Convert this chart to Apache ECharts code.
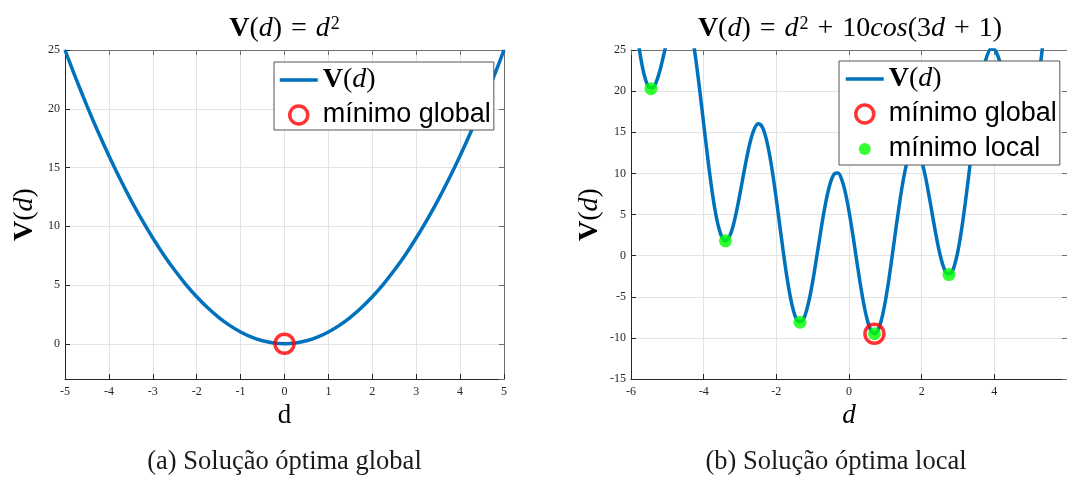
<!DOCTYPE html>
<html>
<head>
<meta charset="utf-8">
<script src="https://cdn.jsdelivr.net/npm/echarts@6/dist/echarts.min.js"></script>
<style>
html,body{margin:0;padding:0;background:#fff;}
#chart{width:1067px;height:479px;}
</style>
</head>
<body>
<div id="chart"></div>
<script>
// ---- Data ----
// (a) V(d) = d^2
const dLeft = [-5,-4.75,-4.5,-4.25,-4,-3.75,-3.5,-3.25,-3,-2.75,-2.5,-2.25,-2,-1.75,-1.5,-1.25,-1,-0.75,-0.5,-0.25,0,0.25,0.5,0.75,1,1.25,1.5,1.75,2,2.25,2.5,2.75,3,3.25,3.5,3.75,4,4.25,4.5,4.75,5];
const vLeft = [25,22.56,20.25,18.06,16,14.06,12.25,10.56,9,7.56,6.25,5.06,4,3.06,2.25,1.56,1,0.56,0.25,0.06,0,0.06,0.25,0.56,1,1.56,2.25,3.06,4,5.06,6.25,7.56,9,10.56,12.25,14.06,16,18.06,20.25,22.56,25];
const globalLeftX = [0];
const globalLeftY = [0];

// (b) V(d) = d^2 + 10cos(3d+1)
const dRight = [-6.0,-5.9,-5.8,-5.7,-5.6,-5.5,-5.4,-5.3,-5.2,-5.1,-5.0,-4.9,-4.8,-4.7,-4.6,-4.5,-4.4,-4.3,-4.2,-4.1,-4.0,-3.9,-3.8,-3.7,-3.6,-3.5,-3.4,-3.3,-3.2,-3.1,-3.0,-2.9,-2.8,-2.7,-2.6,-2.5,-2.4,-2.3,-2.2,-2.1,-2.0,-1.9,-1.8,-1.7,-1.6,-1.5,-1.4,-1.3,-1.2,-1.1,-1.0,-0.9,-0.8,-0.7,-0.6,-0.5,-0.4,-0.3,-0.2,-0.1,0.0,0.1,0.2,0.3,0.4,0.5,0.6,0.7,0.8,0.9,1.0,1.1,1.2,1.3,1.4,1.5,1.6,1.7,1.8,1.9,2.0,2.1,2.2,2.3,2.4,2.5,2.6,2.7,2.8,2.9,3.0,3.1,3.2,3.3,3.4,3.5,3.6,3.7,3.8,3.9,4.0,4.1,4.2,4.3,4.4,4.5,4.6,4.7,4.8,4.9,5.0,5.1,5.2,5.3,5.4,5.5,5.6];
const vRight = [33.25,29.34,25.94,23.25,21.40,20.47,20.42,21.18,22.57,24.39,26.37,28.24,29.76,30.70,30.89,30.23,28.70,26.35,23.34,19.81,16.04,12.30,8.83,5.88,3.66,2.28,1.81,2.24,3.45,5.30,7.54,9.94,12.23,14.14,15.45,16.02,15.73,14.56,12.60,9.95,6.84,3.49,0.17,-2.86,-5.35,-7.12,-8.02,-8.02,-7.13,-5.45,-3.16,-0.48,2.34,5.03,7.33,9.03,9.96,10.04,9.25,7.66,5.40,2.69,-0.25,-3.14,-5.73,-7.76,-9.06,-9.50,-9.03,-7.67,-5.54,-2.80,0.32,3.56,6.65,9.34,11.42,12.72,13.17,12.75,11.54,9.68,7.35,4.83,2.37,0.23,-1.35,-2.19,-2.16,-1.22,0.61,3.21,6.39,9.93,13.59,17.08,20.17,22.62,24.30,25.12,25.07,24.24,22.77,20.84,18.73,16.70,15.01,13.88,13.51,14.01,15.42,17.71,20.77,24.40,28.37,32.45,36.34];
const globalRightX = [0.7];
const globalRightY = [-9.5];
const localX = [-5.45,-3.4,-1.35,0.7,2.75];
const localY = [20.3,1.8,-8.1,-9.5,-2.3];

// Text
const nameCurve = 'V(d)';
const nameGlobal = 'mínimo global';
const nameLocal = 'mínimo local';
const captionA = '(a) Solução óptima global';
const captionB = '(b) Solução óptima local';

// ---- Styling ----
const SERIF = 'Liberation Serif';
const SANS = 'Liberation Sans';
const AX = '#262626';
const MIRROR = '#707070';
const BLUE = '#0072BD';
const GRIDC = '#e3e3e3';

const zip = (a, b) => a.map((v, i) => [v, b[i]]);

const mathRich = (fs, pad) => ({
  b: {fontFamily: SERIF, fontWeight: 'bold', fontSize: fs, color: '#000'},
  i: {fontFamily: SERIF, fontStyle: 'italic', fontSize: fs, color: '#000'},
  n: {fontFamily: SERIF, fontSize: fs, color: '#000'},
  o: {fontFamily: SERIF, fontSize: fs, color: '#000', padding: [0, pad, 0, pad]},
  s: {fontFamily: SERIF, fontSize: Math.round(fs * 0.66), color: '#000', verticalAlign: 'top', padding: [0, 0, 0, 1]}
});

function mainX(grid, min, max, interval, nameTxt) {
  return {
    type: 'value', gridIndex: grid, position: 'bottom', min, max, interval,
    name: nameTxt, nameLocation: 'middle', nameGap: 23,
    nameTextStyle: {fontFamily: SERIF, fontSize: 27, color: '#000', rich: mathRich(27, 0)},
    axisLine: {show: true, onZero: false, lineStyle: {color: AX, width: 1}},
    axisTick: {show: true, inside: true, length: 5, lineStyle: {color: AX}},
    axisLabel: {fontFamily: SERIF, fontSize: 12, color: AX, margin: 7, showMaxLabel: grid === 0},
    splitLine: {show: true, lineStyle: {color: GRIDC, width: 1}}
  };
}
function mirrorX(grid, min, max, interval) {
  return {
    type: 'value', gridIndex: grid, position: 'top', min, max, interval,
    axisLine: {show: true, onZero: false, lineStyle: {color: MIRROR, width: 1}},
    axisTick: {show: true, inside: true, length: 5, lineStyle: {color: MIRROR}},
    axisLabel: {show: false}, splitLine: {show: false}
  };
}
function mainY(grid, min, max, interval, gap, showMin) {
  const o = {
    type: 'value', gridIndex: grid, position: 'left', min, max,
    name: '{b|V}{n|(}{i|d}{n|)}', nameLocation: 'middle', nameGap: gap, nameRotate: 90,
    nameTextStyle: {fontFamily: SERIF, fontSize: 28, color: '#000', rich: mathRich(28, 0)},
    axisLine: {show: true, onZero: false, lineStyle: {color: AX, width: 1}},
    axisTick: {show: true, inside: true, length: 5, lineStyle: {color: AX}},
    axisLabel: {fontFamily: SERIF, fontSize: 12, color: AX, margin: 5, showMinLabel: showMin},
    splitLine: {show: true, lineStyle: {color: GRIDC, width: 1}}
  };
  if (interval) o.interval = interval; else o.splitNumber = 5;
  return o;
}
function mirrorY(grid, min, max, interval) {
  const o = {
    type: 'value', gridIndex: grid, position: 'right', min, max,
    axisLine: {show: true, onZero: false, lineStyle: {color: MIRROR, width: 1}},
    axisTick: {show: true, inside: true, length: 5, lineStyle: {color: MIRROR}},
    axisLabel: {show: false}, splitLine: {show: false}
  };
  if (interval) o.interval = interval; else o.splitNumber = 5;
  return o;
}

const legendText = {
  fontFamily: SANS, fontSize: 27, color: '#000', lineHeight: 28,
  rich: {
    b: {fontFamily: SERIF, fontWeight: 'bold', fontSize: 28, lineHeight: 28, color: '#000'},
    i: {fontFamily: SERIF, fontStyle: 'italic', fontSize: 28, lineHeight: 28, color: '#000'},
    n: {fontFamily: SERIF, fontSize: 28, lineHeight: 28, color: '#000'}
  }
};
const legendFmt = (name) => name === nameCurve ? '{b|V}{n|(}{i|d}{n|)}' : name;
const itemCurve = {name: nameCurve, lineStyle: {width: 3.5, color: BLUE}, itemStyle: {color: 'transparent', borderWidth: 0, opacity: 0}};
const itemGlobal = {name: nameGlobal, icon: 'circle', itemStyle: {color: 'transparent', borderColor: '#FF0000', borderWidth: 3.5}};
const itemLocal = {name: nameLocal, icon: 'path://M0 0M18 18M3 9A6 6 0 1 0 15 9A6 6 0 1 0 3 9Z', itemStyle: {color: '#00FF00', borderWidth: 0}};

const option = {
  animation: false,
  backgroundColor: '#fff',
  grid: [
    {left: 65, top: 50, width: 439, height: 329, containLabel: false},
    {left: 631, top: 50, width: 439, height: 329, containLabel: false}
  ],
  xAxis: [
    mainX(0, -5, 5, 1, 'd'),
    mirrorX(0, -5, 5, 1),
    mainX(1, -6, 6, 2, '{i|d}'),
    mirrorX(1, -6, 6, 2)
  ],
  yAxis: [
    mainY(0, -3, 25, null, 26, false),
    mirrorY(0, -3, 25, null),
    mainY(1, -15, 25, 5, 27, true),
    mirrorY(1, -15, 25, 5)
  ],
  legend: [
    {
      orient: 'vertical', left: 274, top: 62, selectedMode: false,
      data: [itemCurve, itemGlobal],
      itemWidth: 38, itemHeight: 18, itemGap: 7,
      padding: [4, 3, 1, 4],
      borderColor: '#555', borderWidth: 1, backgroundColor: '#fff',
      textStyle: legendText, formatter: legendFmt
    },
    {
      orient: 'vertical', left: 839, top: 61, selectedMode: false,
      data: [itemCurve, itemGlobal, itemLocal],
      itemWidth: 38, itemHeight: 18, itemGap: 7,
      padding: [4, 3, 2, 5],
      borderColor: '#555', borderWidth: 1, backgroundColor: '#fff',
      textStyle: legendText, formatter: legendFmt
    }
  ],
  series: [
    {
      name: nameCurve, type: 'line', xAxisIndex: 0, yAxisIndex: 0,
      data: zip(dLeft, vLeft), symbol: 'none', smooth: 0.3,
      lineStyle: {color: BLUE, width: 3.5}, itemStyle: {color: BLUE}, z: 2, silent: true
    },
    {
      name: nameGlobal, type: 'scatter', xAxisIndex: 0, yAxisIndex: 0,
      data: zip(globalLeftX, globalLeftY), symbol: 'circle', symbolSize: 19,
      itemStyle: {color: 'transparent', borderColor: '#FF0000', borderWidth: 3.5}, z: 4, silent: true
    },
    {
      name: nameCurve, type: 'line', xAxisIndex: 2, yAxisIndex: 2,
      data: zip(dRight, vRight), symbol: 'none', smooth: 0.3,
      lineStyle: {color: BLUE, width: 3.5}, itemStyle: {color: BLUE}, z: 2, silent: true
    },
    {
      name: nameLocal, type: 'scatter', xAxisIndex: 2, yAxisIndex: 2,
      data: zip(localX, localY), symbol: 'circle', symbolSize: 13,
      itemStyle: {color: '#00FF00'}, z: 3, silent: true
    },
    {
      name: nameGlobal, type: 'scatter', xAxisIndex: 2, yAxisIndex: 2,
      data: zip(globalRightX, globalRightY), symbol: 'circle', symbolSize: 19,
      itemStyle: {color: 'transparent', borderColor: '#FF0000', borderWidth: 3.5}, z: 4, silent: true
    }
  ],
  graphic: [
    {
      type: 'text', x: 284.5, y: 29, silent: true,
      style: {
        text: '{b|V}{n|(}{i|d}{n|)}{o|=}{i|d}{s|2}',
        rich: mathRich(28, 9), align: 'center', verticalAlign: 'middle',
        fontFamily: SERIF, fontSize: 28
      }
    },
    {
      type: 'text', x: 850, y: 29, silent: true,
      style: {
        text: '{b|V}{n|(}{i|d}{n|)}{o|=}{i|d}{s|2}{o|+}{n|10}{i|cos}{n|(3}{i|d}{o|+}{n|1)}',
        rich: mathRich(28, 9), align: 'center', verticalAlign: 'middle',
        fontFamily: SERIF, fontSize: 28
      }
    },
    {
      type: 'text', x: 284.5, y: 462, silent: true,
      style: {text: captionA, fontFamily: SERIF, fontSize: 26.5, fill: '#1a1a1a', align: 'center', verticalAlign: 'middle'}
    },
    {
      type: 'text', x: 836, y: 462, silent: true,
      style: {text: captionB, fontFamily: SERIF, fontSize: 26.5, fill: '#1a1a1a', align: 'center', verticalAlign: 'middle'}
    }
  ]
};

const chart = echarts.init(document.getElementById('chart'), null, {renderer: 'canvas'});
chart.setOption(option);
</script>
</body>
</html>
